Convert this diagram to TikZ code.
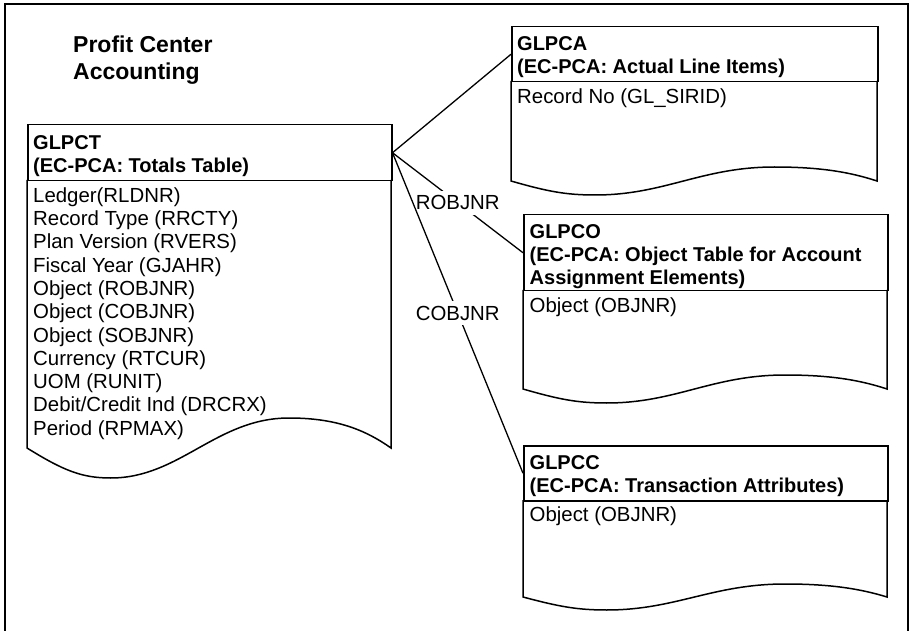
\documentclass[tikz,border=0pt]{standalone}
\usepackage{fontspec}
\setmainfont{Liberation Sans}
\newcommand{\wavebody}[5]{% L R T B A
  \draw[boxline] (#1,#3) -- (#1,#4)
   .. controls ({#1+0.10*(#2-#1)},{#4+0.75*#5}) and ({#1+0.15*(#2-#1)},{#4+#5}) .. ({#1+0.23*(#2-#1)},{#4+#5})
   .. controls ({#1+0.42*(#2-#1)},{#4+#5}) and ({#1+0.52*(#2-#1)},{#4-#5}) .. ({#1+0.72*(#2-#1)},{#4-#5})
   .. controls ({#1+0.85*(#2-#1)},{#4-#5}) and ({#1+0.93*(#2-#1)},{#4-0.6*#5}) .. (#2,#4) -- (#2,#3);}
\begin{document}
\begin{tikzpicture}[x=1pt,y=-1pt,
  boxline/.style={line width=1.5pt},
  hdr/.style={draw, line width=1.5pt, anchor=north west, inner sep=0pt},
  txt/.style={anchor=north west, inner sep=0pt, align=left, font=\fontsize{20.4}{23.3}\selectfont},
  btxt/.style={anchor=north west, inner sep=0pt, align=left, font=\fontsize{20}{23.2}\selectfont\bfseries},
  conn/.style={line width=1.3pt},
  lbl/.style={fill=white, inner xsep=2pt, inner ysep=5pt, font=\fontsize{20.4}{23.3}\selectfont}]
\useasboundingbox (0,0) rectangle (911,631);
% frame
\draw[line width=1.7pt] (5,631) -- (5,4) -- (908,4) -- (908,631);
% title
\node[anchor=north west, inner sep=0pt, align=left, font=\fontsize{23}{27.5}\selectfont\bfseries] (title) at (73,{52-19.25}) {\strut Profit Center\\Accounting};
% GLPCT
\node[hdr, minimum width=364pt, minimum height=56pt] (glpct) at (27,124) {};
\wavebody{27}{391}{180}{448}{30}
\node[btxt] (glpctH) at (33,{149-16.24}) {\strut GLPCT\\(EC-PCA: Totals Table)};
\node[txt] (glpctB) at (33,{202-16.31}) {\strut Ledger(RLDNR)\\Record Type (RRCTY)\\Plan Version (RVERS)\\Fiscal Year (GJAHR)\\Object (ROBJNR)\\Object (COBJNR)\\Object (SOBJNR)\\Currency (RTCUR)\\UOM (RUNIT)\\Debit/Credit Ind (DRCRX)\\Period (RPMAX)};
% GLPCA
\node[hdr, minimum width=366pt, minimum height=55pt] (glpca) at (511,26) {};
\wavebody{511}{877}{81}{181}{14}
\node[btxt] (glpcaH) at (517,{50-16.24}) {\strut GLPCA\\(EC-PCA: Actual Line Items)};
\node[txt] (glpcaB) at (517,{103-16.31}) {\strut Record No (GL\_SIRID)};
% GLPCO
\node[hdr, minimum width=364pt, minimum height=76pt] (glpco) at (523,214) {};
\wavebody{523}{887}{290}{389}{14}
\node[btxt] (glpcoH) at (529.5,{238-16.24}) {\strut GLPCO\\(EC-PCA: Object Table for Account\\Assignment Elements)};
\node[txt] (glpcoB) at (529.5,{312-16.31}) {\strut Object (OBJNR)};
% GLPCC
\node[hdr, minimum width=364pt, minimum height=55pt] (glpcc) at (523,445) {};
\wavebody{523}{887}{500}{597}{13}
\node[btxt] (glpccH) at (529.5,{469-16.24}) {\strut GLPCC\\(EC-PCA: Transaction Attributes)};
\node[txt] (glpccB) at (529.5,{521-16.31}) {\strut Object (OBJNR)};
% connectors
\draw[conn] (glpct.east) -- (glpca.west);
\draw[conn] (glpct.east) -- node[lbl] (lr) {ROBJNR} (glpco.west);
\draw[conn] (glpct.east) -- node[lbl] (lc) {COBJNR} (glpcc.west);
\end{tikzpicture}
\end{document}
